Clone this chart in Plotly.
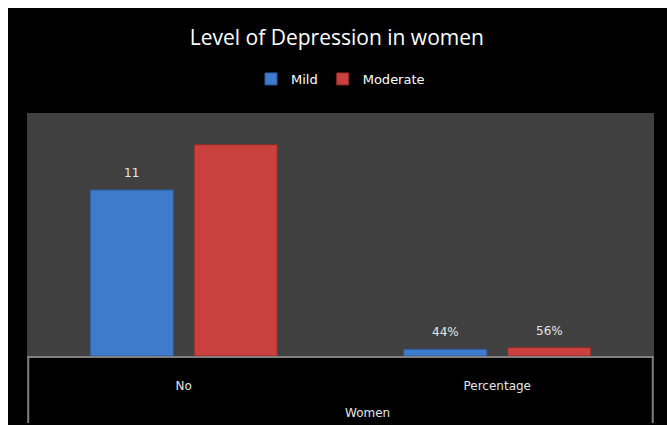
import plotly.graph_objects as go

outer_label = "Women"
categories = ["No", "Percentage"]
mild = [11, 0.44]
moderate = [14, 0.56]
mild_labels = ["11", "44%"]
moderate_labels = ["", "56%"]

W, H = 667, 425
L, R, T, B = 27, 13, 113, 69
pw, ph = W - L - R, H - T - B
BARGAP, GROUPGAP = 0.337, 0.2

fig = go.Figure()
fig.add_trace(go.Bar(
    name="Mild", x=categories, y=mild,
    marker=dict(color="#3f7bcc", line=dict(color="#2c5a9a", width=1)),
))
fig.add_trace(go.Bar(
    name="Moderate", x=categories, y=moderate,
    marker=dict(color="#c9403d", line=dict(color="#8f2a28", width=1)),
))

# value labels, placed above each bar via the axis scales
slot = (1 - BARGAP) / 2
annotations = []
for k, (vals, labs) in enumerate([(mild, mild_labels), (moderate, moderate_labels)]):
    off = (k - 0.5) * slot
    for i, (v, t) in enumerate(zip(vals, labs)):
        if t:
            annotations.append(dict(x=i + off, y=v, xref="x", yref="y", text=t,
                                    showarrow=False, yanchor="bottom", yshift=8,
                                    font=dict(color="#e6e6e6", size=12, family="DejaVu Sans")))
annotations.append(dict(x=(367 - L) / pw, y=-(413 - (H - B)) / ph, xref="paper", yref="paper",
                        text=outer_label, showarrow=False, xanchor="center", yanchor="middle",
                        font=dict(color="#e6e6e6", size=12, family="DejaVu Sans")))

fig.update_layout(
    width=W, height=H,
    margin=dict(l=L, r=R, t=T, b=B),
    paper_bgcolor="#000000",
    plot_bgcolor="#404040",
    barmode="group",
    bargap=BARGAP, bargroupgap=GROUPGAP,
    title=dict(text="Level of Depression in women", x=0.505, xanchor="center",
               y=1 - 38 / H, yanchor="middle",
               font=dict(color="#ffffff", size=21, family="Open Sans")),
    legend=dict(orientation="h", x=0.5, xanchor="center", y=1 + (113 - 79) / ph,
                yanchor="middle", font=dict(color="#ffffff", size=13, family="DejaVu Sans"),
                itemwidth=30, bgcolor="rgba(0,0,0,0)", traceorder="normal"),
    showlegend=True,
    font=dict(family="DejaVu Sans", color="#e6e6e6", size=12),
    xaxis=dict(type="category", showline=True, linecolor="#808080", linewidth=2,
               tickfont=dict(color="#e6e6e6", size=12), ticks="", showgrid=False,
               ticklabelstandoff=18),
    yaxis=dict(range=[0, 16.1], visible=False, showgrid=False, zeroline=False),
    annotations=annotations,
    shapes=[
        dict(type="rect", xref="paper", yref="paper", x0=-L / pw, x1=(W - L) / pw,
             y0=1 + (T - 8) / ph, y1=1 + T / ph, fillcolor="#ffffff", line=dict(width=0), layer="below"),
        dict(type="rect", xref="paper", yref="paper", x0=-L / pw, x1=-(L - 8) / pw,
             y0=-B / ph, y1=1 + T / ph, fillcolor="#ffffff", line=dict(width=0), layer="below"),
        dict(type="line", xref="paper", yref="paper", x0=0.002, x1=0.002, y0=0, y1=-(423 - (H - B)) / ph,
             line=dict(color="#808080", width=2)),
        dict(type="line", xref="paper", yref="paper", x0=0.998, x1=0.998, y0=0, y1=-(423 - (H - B)) / ph,
             line=dict(color="#808080", width=2)),
    ],
)

fig.write_html("out.html")
